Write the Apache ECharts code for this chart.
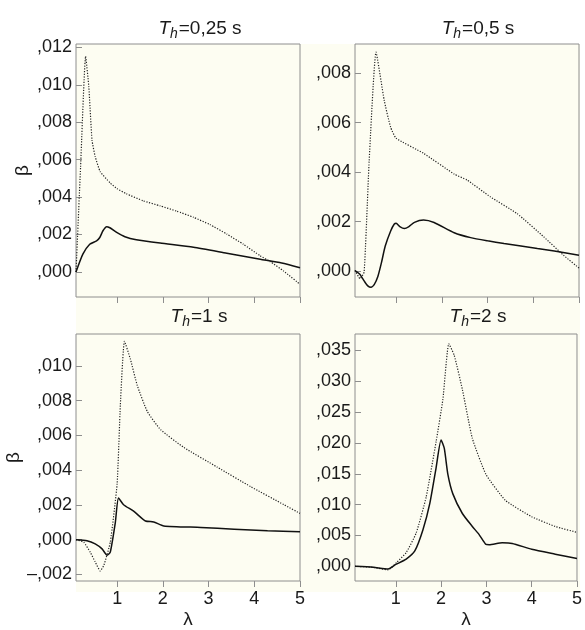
<!DOCTYPE html>
<html>
<head>
<meta charset="utf-8">
<script src="https://cdn.jsdelivr.net/npm/echarts@6/dist/echarts.min.js"></script>
<style>
  html, body { margin: 0; padding: 0; background: #ffffff; }
  #chart { width: 585px; height: 630px; }
</style>
</head>
<body>
<div id="chart"></div>
<script>
// λ tick positions shared by all four panels
const lambdaTicks = [1, 2, 3, 4, 5];

// β tick positions for each panel
const betaTicks025 = [0, 0.002, 0.004, 0.006, 0.008, 0.010, 0.012];
const betaTicks05  = [0, 0.002, 0.004, 0.006, 0.008];
const betaTicks1   = [-0.002, 0, 0.002, 0.004, 0.006, 0.008, 0.010];
const betaTicks2   = [0, 0.005, 0.010, 0.015, 0.020, 0.025, 0.030, 0.035];

// Curves as [λ, β] pairs, one solid and one dotted curve per T_h
const th025Solid = [
  [0.10, 0.00000], [0.25, 0.00095], [0.40, 0.00148], [0.55, 0.00166], [0.62, 0.00184],
  [0.69, 0.00220], [0.77, 0.00242], [0.84, 0.00236], [0.99, 0.00211], [1.17, 0.00188],
  [1.42, 0.00172], [1.94, 0.00154], [2.67, 0.00132], [3.40, 0.00100], [4.13, 0.00068],
  [4.60, 0.00048], [5.00, 0.00022]
];
const th025Dotted = [
  [0.10, 0.00000], [0.20, 0.00560], [0.31, 0.01152], [0.38, 0.00990], [0.45, 0.00705],
  [0.52, 0.00616], [0.63, 0.00536], [0.85, 0.00475], [1.00, 0.00445], [1.20, 0.00418],
  [1.57, 0.00380], [1.94, 0.00353], [2.30, 0.00325], [2.67, 0.00292], [3.03, 0.00253],
  [3.40, 0.00202], [3.76, 0.00148], [4.13, 0.00086], [4.35, 0.00055], [4.64, 0.00005],
  [5.00, -0.00066]
];

const th05Solid = [
  [0.10, 0.00002], [0.20, -0.00012], [0.30, -0.00040], [0.38, -0.00060], [0.45, -0.00066],
  [0.52, -0.00055], [0.60, -0.00022], [0.68, 0.00035], [0.76, 0.00100], [0.88, 0.00162],
  [0.96, 0.00190], [1.00, 0.00193], [1.08, 0.00180], [1.18, 0.00172], [1.28, 0.00180],
  [1.40, 0.00197], [1.60, 0.00206], [1.83, 0.00196], [2.27, 0.00155], [2.63, 0.00135],
  [3.00, 0.00122], [3.36, 0.00111], [3.73, 0.00101], [4.09, 0.00091], [4.46, 0.00081],
  [5.00, 0.00064]
];
const th05Dotted = [
  [0.10, 0.00003], [0.21, -0.00031], [0.30, -0.00004], [0.41, 0.00446], [0.56, 0.00885],
  [0.74, 0.00689], [0.88, 0.00581], [1.00, 0.00537], [1.60, 0.00476], [2.27, 0.00392],
  [2.55, 0.00368], [3.06, 0.00300], [3.64, 0.00233], [4.23, 0.00138], [4.66, 0.00064],
  [5.00, 0.00012]
];

const th1Solid = [
  [0.10, 0.00000], [0.34, -0.00006], [0.52, -0.00024], [0.67, -0.00053], [0.78, -0.00090],
  [0.85, -0.00072], [0.96, 0.00098], [1.03, 0.00239], [1.14, 0.00201], [1.36, 0.00164],
  [1.62, 0.00107], [1.80, 0.00102], [2.02, 0.00079], [2.83, 0.00070], [3.56, 0.00060],
  [4.29, 0.00051], [5.00, 0.00045]
];
const th1Dotted = [
  [0.10, 0.00000], [0.27, -0.00015], [0.41, -0.00072], [0.52, -0.00128], [0.63, -0.00180],
  [0.71, -0.00147], [0.85, -0.00015], [1.00, 0.00323], [1.07, 0.00774], [1.16, 0.01141],
  [1.29, 0.01038], [1.44, 0.00887], [1.66, 0.00737], [1.95, 0.00633], [2.46, 0.00530],
  [3.19, 0.00417], [3.92, 0.00305], [4.65, 0.00201], [5.00, 0.00151]
];

const th2Solid = [
  [0.10, 0.00000], [0.50, -0.00016], [0.83, -0.00042], [1.00, 0.00030], [1.23, 0.00117],
  [1.42, 0.00249], [1.60, 0.00593], [1.75, 0.01015], [1.89, 0.01597], [2.00, 0.02046],
  [2.07, 0.01914], [2.15, 0.01491], [2.26, 0.01174], [2.47, 0.00856], [2.69, 0.00646],
  [2.84, 0.00514], [2.99, 0.00355], [3.06, 0.00350], [3.35, 0.00381], [3.57, 0.00371],
  [4.00, 0.00276], [4.52, 0.00197], [5.00, 0.00127]
];
const th2Dotted = [
  [0.10, 0.00000], [0.50, -0.00016], [0.83, -0.00058], [1.02, 0.00063], [1.23, 0.00222],
  [1.45, 0.00539], [1.67, 0.01120], [1.89, 0.02020], [2.04, 0.02707], [2.17, 0.03607],
  [2.29, 0.03420], [2.47, 0.02866], [2.69, 0.02073], [2.99, 0.01491], [3.42, 0.01069],
  [4.00, 0.00804], [4.52, 0.00646], [5.00, 0.00550]
];

// Panel titles (text after the italic T_h)
const titles = ['=0,25 s', '=0,5 s', '=1 s', '=2 s'];

const FONT = "'Liberation Sans', Arial, Helvetica, sans-serif";
const FRAME = '#8e8e8e';
const INK = '#1a1a1a';

function betaLabel(v) {
  const s = Math.abs(v).toFixed(3).replace(/^0\./, ',');
  return v < -1e-9 ? '\u2013' + s : s;
}

const panels = [
  { grid: { left: 76,  top: 44,  width: 224, height: 253 }, yMin: -0.00134, yMax: 0.01218,
    yTicks: betaTicks025, solid: th025Solid, dotted: th025Dotted, bottomRow: false, leftCol: true,
    titleX: 200, titleY: 16 },
  { grid: { left: 355, top: 44,  width: 224, height: 253 }, yMin: -0.00105, yMax: 0.00918,
    yTicks: betaTicks05, solid: th05Solid, dotted: th05Dotted, bottomRow: false, leftCol: false,
    titleX: 478, titleY: 16 },
  { grid: { left: 76,  top: 334, width: 224, height: 252 }, yMin: -0.00238, yMax: 0.01183,
    yTicks: betaTicks1, solid: th1Solid, dotted: th1Dotted, bottomRow: true, leftCol: true,
    titleX: 199, titleY: 304 },
  { grid: { left: 355, top: 334, width: 224, height: 252 }, yMin: -0.00238, yMax: 0.03765,
    yTicks: betaTicks2, solid: th2Solid, dotted: th2Dotted, bottomRow: true, leftCol: false,
    titleX: 478, titleY: 304 }
];

const option = {
  animation: false,
  backgroundColor: '#ffffff',
  textStyle: { fontFamily: FONT },
  graphic: [{
    type: 'rect', z: -10, silent: true,
    shape: { x: 76, y: 44, width: 504, height: 548 },
    style: { fill: '#fdfdf2' }
  }],
  title: panels.map((p, i) => ({
    text: '{t|T}{s|h}{n|' + titles[i] + '}',
    left: p.titleX, top: p.titleY, textAlign: 'center', padding: 0,
    textStyle: {
      fontWeight: 'normal',
      rich: {
        t: { fontFamily: FONT, fontStyle: 'italic', fontWeight: 'normal', fontSize: 19,
             color: INK, lineHeight: 25 },
        s: { fontFamily: FONT, fontStyle: 'italic', fontWeight: 'normal', fontSize: 14,
             color: INK, verticalAlign: 'bottom', lineHeight: 14, padding: [10, 1, 0, 0] },
        n: { fontFamily: FONT, fontWeight: 'normal', fontSize: 19, color: INK, lineHeight: 25 }
      }
    }
  })),
  grid: panels.map(p => Object.assign({
    show: true, borderColor: FRAME, borderWidth: 1, backgroundColor: 'transparent'
  }, p.grid)),
  xAxis: panels.map((p, i) => ({
    type: 'value', gridIndex: i, min: 0.1, max: 5,
    axisLine: { show: false, onZero: false },
    splitLine: { show: false },
    axisTick: { show: true, inside: false, length: 6, customValues: lambdaTicks,
                lineStyle: { color: FRAME, width: 1 } },
    axisLabel: { show: p.bottomRow, customValues: lambdaTicks, margin: 9,
                 fontFamily: FONT, fontSize: 18, color: INK },
    name: p.bottomRow ? '\u03bb' : '',
    nameLocation: 'middle', nameGap: 29,
    nameTextStyle: { fontFamily: FONT, fontSize: 19, color: INK }
  })),
  yAxis: panels.map((p, i) => ({
    type: 'value', gridIndex: i, min: p.yMin, max: p.yMax,
    axisLine: { show: false, onZero: false },
    splitLine: { show: false },
    axisTick: { show: true, inside: true, length: 6, customValues: p.yTicks,
                lineStyle: { color: FRAME, width: 1 } },
    axisLabel: { customValues: p.yTicks, margin: 4, formatter: betaLabel,
                 fontFamily: FONT, fontSize: 18, color: INK },
    name: p.leftCol ? '\u03b2' : '',
    nameLocation: 'middle', nameGap: 44, nameRotate: 90,
    nameTextStyle: { fontFamily: FONT, fontSize: 19, color: INK }
  })),
  series: panels.flatMap((p, i) => [
    {
      type: 'line', xAxisIndex: i, yAxisIndex: i, data: p.dotted,
      showSymbol: false, smooth: 0.15, z: 3,
      lineStyle: { color: '#222222', width: 1.2, type: [1.2, 1.5] }
    },
    {
      type: 'line', xAxisIndex: i, yAxisIndex: i, data: p.solid,
      showSymbol: false, smooth: 0.2, z: 4,
      lineStyle: { color: '#111111', width: 1.5 }
    }
  ])
};

const chart = echarts.init(document.getElementById('chart'), null, { renderer: 'canvas' });
chart.setOption(option);
</script>
</body>
</html>
